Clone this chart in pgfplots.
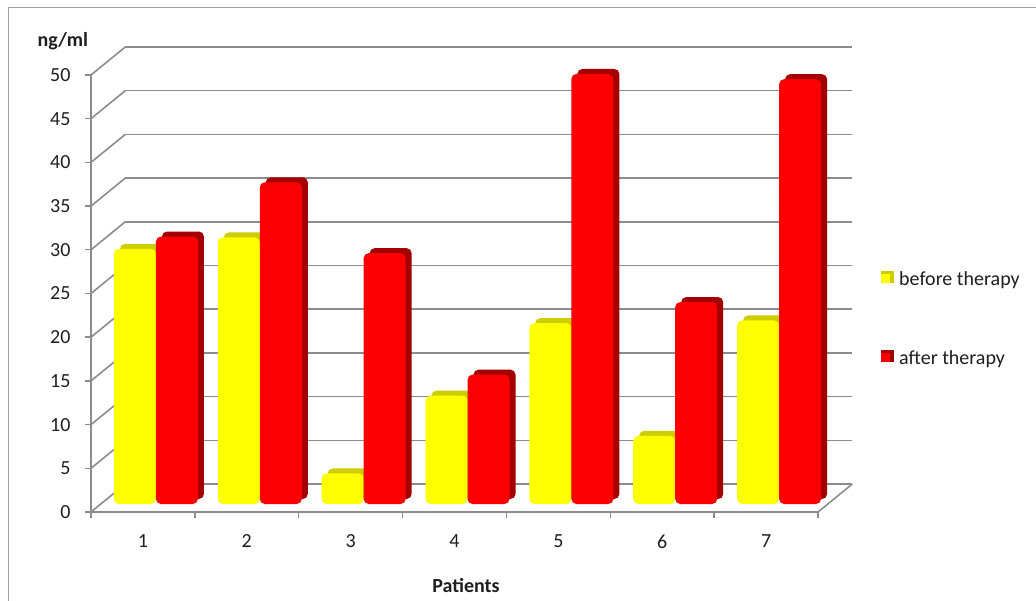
\documentclass[border=0pt]{standalone}
\usepackage{fontspec}
\setmainfont{Carlito}
\usepackage{pgfplots}
\pgfplotsset{compat=1.18}

\definecolor{gridgray}{RGB}{140,140,140}
\definecolor{framegray}{RGB}{160,160,160}
\definecolor{txt}{RGB}{30,30,30}
\definecolor{barY}{RGB}{255,255,0}
\definecolor{barYside}{RGB}{205,205,0}
\definecolor{barR}{RGB}{250,0,0}
\definecolor{barRside}{RGB}{165,0,0}

\begin{document}
\begin{tikzpicture}
\useasboundingbox (0,0) rectangle (1036pt,600pt);
% chart area frame
\draw[framegray, line width=1pt] (8pt,-5pt) -- (8pt,592pt) -- (1045pt,592pt);

\begin{axis}[
  at={(91pt,88pt)}, anchor=south west,
  scale only axis, width=761.3pt, height=465pt,
  xmin=0.5, xmax=7.83, ymin=0, ymax=53.2,
  axis x line*=bottom, axis y line*=left,
  axis line style={draw=none},
  tick align=outside,
  major tick length=6pt, minor tick length=6pt,
  ytick={0,5,...,50},
  y tick style={gridgray, line width=1.4pt},
  xtick={1,...,7},
  minor xtick={0.5,1.5,...,7.5},
  major x tick style={draw=none},
  minor x tick style={gridgray, line width=1.4pt},
  font=\fontsize{20}{23}\selectfont,
  /pgf/number format/assume math mode=true,
  ticklabel style={txt},
  yticklabel style={xshift=-11pt},
  xticklabel style={yshift=-13pt},
  ylabel={\textbf{ng/ml}},
  ylabel style={rotate=-90, at={(axis description cs:-0.037,1.013)}, anchor=center, txt},
  xlabel={\textbf{Patients}},
  xlabel style={at={(axis description cs:0.4926,-0.159)}, anchor=center, txt},
  legend style={at={(axis description cs:1.038,0.522)}, anchor=north west,
    draw=none, fill=none, row sep=60pt, font=\fontsize{20}{23}\selectfont,
    text=txt, inner sep=0pt, outer sep=0pt,
    nodes={inner xsep=5pt}},
  legend cell align=left,
  clip=false,
]

% back wall gridlines
\addplot[gridgray, line width=1.6pt, unbounded coords=jump, forget plot] coordinates {
  (0.83,3.2) (7.83,3.2) (nan,nan)
  (0.83,8.2) (7.83,8.2) (nan,nan)
  (0.83,13.2) (7.83,13.2) (nan,nan)
  (0.83,18.2) (7.83,18.2) (nan,nan)
  (0.83,23.2) (7.83,23.2) (nan,nan)
  (0.83,28.2) (7.83,28.2) (nan,nan)
  (0.83,33.2) (7.83,33.2) (nan,nan)
  (0.83,38.2) (7.83,38.2) (nan,nan)
  (0.83,43.2) (7.83,43.2) (nan,nan)
  (0.83,48.2) (7.83,48.2) (nan,nan)
  (0.83,53.2) (7.83,53.2)
};
% side wall and floor edges
\addplot[gridgray, line width=1.6pt, unbounded coords=jump, forget plot] coordinates {
  (0.5,0) (0.83,3.2) (nan,nan)
  (0.5,5) (0.83,8.2) (nan,nan)
  (0.5,10) (0.83,13.2) (nan,nan)
  (0.5,15) (0.83,18.2) (nan,nan)
  (0.5,20) (0.83,23.2) (nan,nan)
  (0.5,25) (0.83,28.2) (nan,nan)
  (0.5,30) (0.83,33.2) (nan,nan)
  (0.5,35) (0.83,38.2) (nan,nan)
  (0.5,40) (0.83,43.2) (nan,nan)
  (0.5,45) (0.83,48.2) (nan,nan)
  (0.5,50) (0.83,53.2) (nan,nan)
  (7.5,0) (7.83,3.2) (nan,nan)
  (0.5,50) (0.5,0) (7.5,0)
};

% depth faces of the columns
\addplot[ybar, bar width=42pt, bar shift=-21pt, draw=none, fill=barYside,
  rounded corners=5pt, xshift=19pt, yshift=13pt, forget plot] coordinates {
  (1,29.2) (2,30.5) (3,3.5) (4,12.4) (5,20.7) (6,7.8) (7,21.0)};
\addplot[ybar, bar width=42pt, bar shift=21pt, draw=none, fill=barRside,
  rounded corners=5pt, xshift=19pt, yshift=13pt, forget plot] coordinates {
  (1,30.6) (2,36.8) (3,28.7) (4,14.8) (5,49.2) (6,23.1) (7,48.6)};

% front faces of the columns
\addplot[ybar, bar width=42pt, bar shift=-21pt, draw=none, fill=barY,
  rounded corners=5pt, xshift=13pt, yshift=8pt,
  legend image code/.code={\fill[barYside, sharp corners] (0pt,-12pt) rectangle (13pt,0pt);
    \fill[barY, sharp corners] (0pt,-12pt) rectangle (9pt,-3pt);}] coordinates {
  (1,29.2) (2,30.5) (3,3.5) (4,12.4) (5,20.7) (6,7.8) (7,21.0)};
\addlegendentry{before therapy}
\addplot[ybar, bar width=42pt, bar shift=21pt, draw=none, fill=barR,
  rounded corners=5pt, xshift=13pt, yshift=8pt,
  legend image code/.code={\fill[barRside, sharp corners] (0pt,-12pt) rectangle (13pt,0pt);
    \fill[barR, sharp corners] (0pt,-12pt) rectangle (9pt,-3pt);}] coordinates {
  (1,30.6) (2,36.8) (3,28.7) (4,14.8) (5,49.2) (6,23.1) (7,48.6)};
\addlegendentry{after therapy}

\end{axis}
\end{tikzpicture}
\end{document}
